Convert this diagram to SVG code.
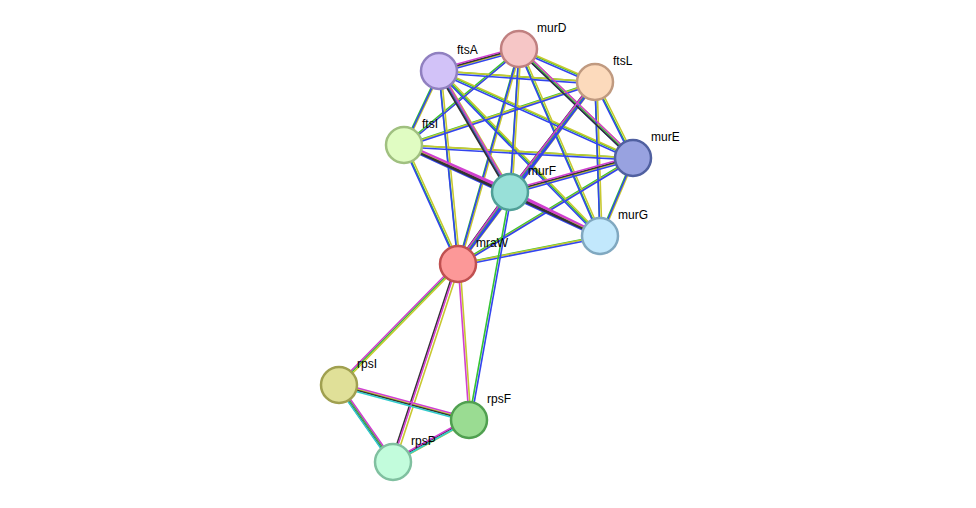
<svg xmlns="http://www.w3.org/2000/svg" xmlns:xlink="http://www.w3.org/1999/xlink" width="976" height="508" viewBox="0 0 976 508">
<style>
.e{fill:none;stroke-width:1.6}
.n circle{stroke-width:2.5}
text{font-family:"Liberation Sans",Arial,sans-serif;font-size:12px;fill:#000}
</style>
<defs>
<path id="top" d="M439,71L519,49M439,71L595,82M439,71L404,145M439,71L633,158M439,71L510,192M439,71L600,236M439,71L458,264M519,49L595,82M519,49L404,145M519,49L633,158M519,49L510,192M519,49L600,236M519,49L458,264M595,82L404,145M595,82L633,158M595,82L510,192M595,82L600,236M595,82L458,264M404,145L633,158M404,145L510,192M404,145L600,236M404,145L458,264M633,158L510,192M633,158L600,236M633,158L458,264M510,192L600,236M510,192L458,264M600,236L458,264"/>
<path id="blk" d="M439,71L519,49M439,71L510,192M519,49L633,158M595,82L510,192M404,145L510,192M404,145L600,236M510,192L600,236M510,192L458,264M633,158L510,192"/>
</defs>
<g id="connectors">
<use href="#top" class="e" stroke="#33c433"/>
<use href="#top" class="e" stroke="#c8c830" transform="translate(2,0)"/>
<use href="#top" class="e" stroke="#3344ee" transform="translate(0,2)"/>
<use href="#blk" class="e" stroke="#333" transform="translate(-2,0)"/>
<use href="#blk" class="e" stroke="#d040d0" transform="translate(0,-2)"/>
<g class="e">
<path stroke="#33c433" d="M458,264L339,385M339,385L393,462M510,192L469,420"/>
<path stroke="#c8c830" transform="translate(2,0)" d="M458,264L339,385M458,264L393,462M458,264L469,420M339,385L469,420M393,462L469,420"/>
<path stroke="#3344ee" transform="translate(2,0)" d="M510,192L469,420"/>
<path stroke="#333" transform="translate(-2,0)" d="M458,264L393,462M339,385L469,420M339,385L393,462M393,462L469,420"/>
<path stroke="#d040d0" transform="translate(0,-2)" d="M458,264L393,462M458,264L469,420M339,385L469,420M339,385L393,462M393,462L469,420M458,264L339,385"/>
<path stroke="#33cccc" transform="translate(-1.5,1.5)" d="M339,385L469,420M339,385L393,462M393,462L469,420"/>
</g>
</g>
<g id="murD" class="n"><circle cx="519" cy="49" r="18" fill="#f6c6c6" stroke="#c08080"/><text x="537" y="32">murD</text></g>
<g id="ftsA" class="n"><circle cx="439" cy="71" r="18" fill="#d2c2f8" stroke="#9080c0"/><text x="457" y="54">ftsA</text></g>
<g id="ftsL" class="n"><circle cx="595" cy="82" r="18" fill="#fcdabc" stroke="#c09a80"/><text x="613" y="65">ftsL</text></g>
<g id="ftsI" class="n"><circle cx="404" cy="145" r="18" fill="#e0fcc2" stroke="#a0c080"/><text x="422" y="128">ftsI</text></g>
<g id="murE" class="n"><circle cx="633" cy="158" r="18" fill="#98a2e0" stroke="#5060a0"/><text x="651" y="141">murE</text></g>
<g id="murF" class="n"><circle cx="510" cy="192" r="18" fill="#98e0d8" stroke="#50a098"/><text x="528" y="175">murF</text></g>
<g id="murG" class="n"><circle cx="600" cy="236" r="18" fill="#c2e8fc" stroke="#80a8c0"/><text x="618" y="219">murG</text></g>
<g id="mraW" class="n"><circle cx="458" cy="264" r="18" fill="#fc9898" stroke="#c05050"/><text x="476" y="247">mraW</text></g>
<g id="rpsI" class="n"><circle cx="339" cy="385" r="18" fill="#e0e098" stroke="#a0a050"/><text x="357" y="368">rpsI</text></g>
<g id="rpsF" class="n"><circle cx="469" cy="420" r="18" fill="#9adc92" stroke="#50a050"/><text x="487" y="403">rpsF</text></g>
<g id="rpsP" class="n"><circle cx="393" cy="462" r="18" fill="#c2fcdc" stroke="#80c0a0"/><text x="411" y="445">rpsP</text></g>
</svg>
